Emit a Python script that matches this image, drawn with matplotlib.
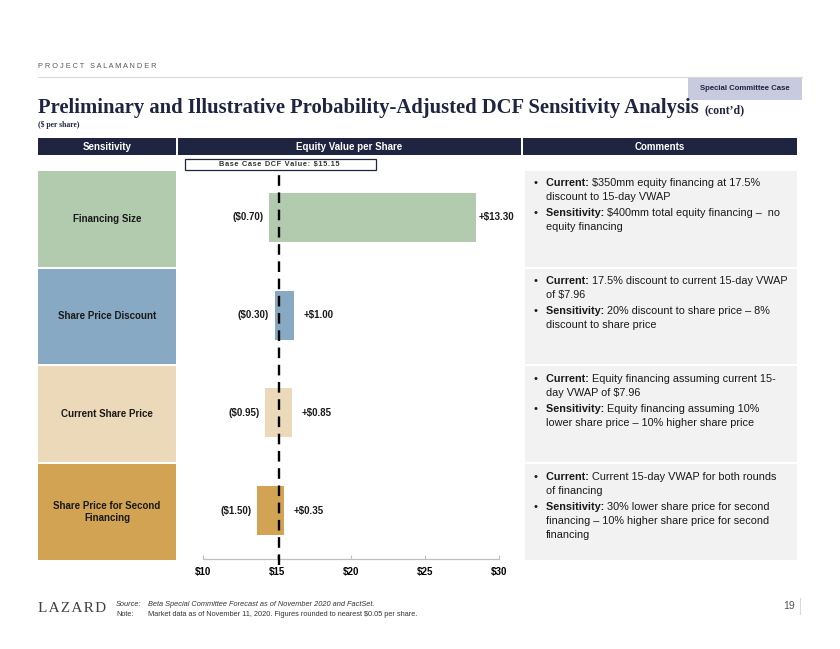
import matplotlib
matplotlib.use("Agg")
import matplotlib.pyplot as plt
from matplotlib.patches import Rectangle

plt.rcParams['font.family'] = ['Liberation Sans', 'DejaVu Sans']
plt.rcParams['text.parse_math'] = False

# ---- data ----
categories = ["Financing Size", "Share Price Discount", "Current Share Price",
              "Share Price for Second\nFinancing"]
base_value = 15.15
downside = [-0.70, -0.30, -0.95, -1.50]
upside = [13.30, 1.00, 0.85, 0.35]
x_ticks = [10, 15, 20, 25, 30]
x_tick_labels = ["$10", "$15", "$20", "$25", "$30"]
row_colors = ["#b2cbae", "#87a9c3", "#ebd9b9", "#d1a352"]

comments = [
    [("Current:", ["$350mm equity financing at 17.5%", "discount to 15-day VWAP"]),
     ("Sensitivity:", ["$400mm total equity financing \u2013  no", "equity financing"])],
    [("Current:", ["17.5% discount to current 15-day VWAP", "of $7.96"]),
     ("Sensitivity:", ["20% discount to share price \u2013 8%", "discount to share price"])],
    [("Current:", ["Equity financing assuming current 15-", "day VWAP of $7.96"]),
     ("Sensitivity:", ["Equity financing assuming 10%", "lower share price \u2013 10% higher share price"])],
    [("Current:", ["Current 15-day VWAP for both rounds", "of financing"]),
     ("Sensitivity:", ["30% lower share price for second",
                       "financing \u2013 10% higher share price for second", "financing"])],
]

NAVY = "#1f2440"
PANEL = "#f2f2f2"
HAIR = "\u200a"

W, H = 840, 649
fig = plt.figure(figsize=(W / 100, H / 100), dpi=100)
fig.patch.set_facecolor("white")

# background layout axes in pixel units
bg = fig.add_axes([0, 0, 1, 1])
bg.set_xlim(0, W)
bg.set_ylim(H, 0)
bg.axis("off")
renderer = fig.canvas.get_renderer()


def text_width(t):
    return t.get_window_extent(renderer=renderer).width


def spaced(s, sep=" "):
    # letter-spaced text, words kept apart by a wider gap
    return "   ".join(sep.join(w) for w in s.split(" "))


# header
bg.text(38, 66, spaced("PROJECT SALAMANDER"), fontsize=5.3, color="#595959", va="center")
bg.plot([38, 802], [76.5, 76.5], color="#d9d9d9", lw=0.8)
bg.add_patch(Rectangle((688, 77), 114, 23, facecolor="#c8cbdf", edgecolor="none"))
bg.text(745, 88.5, "Special Committee Case", fontsize=5.6, fontweight="bold", color=NAVY,
        ha="center", va="center")

title = bg.text(38, 113, "Preliminary and Illustrative Probability-Adjusted DCF Sensitivity Analysis",
                family="Liberation Serif", fontsize=14.9, fontweight="bold", color=NAVY,
                va="baseline")
tw = text_width(title)
bg.text(38 + tw + 6, 113, "(cont\u2019d)", family="Liberation Serif", fontsize=8.5,
        fontweight="bold", color=NAVY, va="baseline")
bg.text(38, 125, "($ per share)", family="Liberation Serif", fontsize=5.5, color=NAVY,
        fontweight="bold", va="center")

# column headers
for x0, x1, label in [(38, 176, "Sensitivity"), (178, 521, "Equity Value per Share"),
                      (523, 797, "Comments")]:
    bg.add_patch(Rectangle((x0, 138), x1 - x0, 17, facecolor=NAVY, edgecolor="none"))
    bg.text((x0 + x1) / 2, 146.5, label, color="white", fontsize=7, fontweight="bold",
            ha="center", va="center")

# base case box
bg.add_patch(Rectangle((185, 159), 191, 10.5, facecolor="white", edgecolor=NAVY, lw=0.9))
bg.text(279.5, 164.6, spaced("Base Case DCF Value: $15.15", HAIR).replace("   ", " \u2009"),
        fontsize=5.3, fontweight="bold", color="#333333", ha="center", va="center")

# rows: sensitivity labels and comment panels
row_top0, row_step, row_h = 171, 97.7, 95.5
for i, cat in enumerate(categories):
    top = row_top0 + i * row_step
    bg.add_patch(Rectangle((38, top), 138, row_h, facecolor=row_colors[i], edgecolor="none"))
    bg.text(107, top + row_h / 2, cat, fontsize=7, fontweight="bold", color="#1a1a1a",
            ha="center", va="center", linespacing=1.3)
    bg.add_patch(Rectangle((525, top), 272, row_h, facecolor=PANEL, edgecolor="none"))
    y = top + 12.5
    for prefix, lines in comments[i]:
        bg.text(536, y, "\u2022", fontsize=8, color="#1a1a1a", ha="center", va="center")
        p = bg.text(546, y, prefix + " ", fontsize=7.8, fontweight="bold", color="#1a1a1a", va="center")
        pw = text_width(p)
        bg.text(546 + pw, y, lines[0], fontsize=7.8, color="#1a1a1a", va="center")
        for ln in lines[1:]:
            y += 14
            bg.text(546, y, ln, fontsize=7.8, color="#1a1a1a", va="center")
        y += 16

# ---- tornado chart ----
ax_l, ax_r, ax_t, ax_b = 203, 499, 171, 559
ax = fig.add_axes([ax_l / W, 1 - ax_b / H, (ax_r - ax_l) / W, (ax_b - ax_t) / H])
ax.patch.set_alpha(0)
for i in range(len(categories)):
    left = base_value + downside[i]
    width = upside[i] - downside[i]
    ax.barh(i, width, left=left, height=0.5, color=row_colors[i], edgecolor="none", zorder=2)
    ax.annotate(f"(${abs(downside[i]):.2f})", xy=(left, i), xytext=(-4, 0),
                textcoords="offset points", ha="right", va="center", fontsize=7,
                fontweight="bold", color="#1a1a1a")
    pad = 1.5 if upside[i] > 5 else 7
    ax.annotate(f"+${upside[i]:.2f}", xy=(base_value + upside[i], i), xytext=(pad, 0),
                textcoords="offset points", ha="left", va="center", fontsize=7,
                fontweight="bold", color="#1a1a1a")

ax.axvline(base_value, ymin=-0.015, ymax=1.0, color="black", lw=1.7,
           linestyle=(0, (4.5, 2.8)), zorder=3, clip_on=False)
ax.set_xlim(10, 30)
ax.set_ylim(3 + 48.5 / row_step, -46.5 / row_step)
ax.set_xticks(x_ticks)
ax.set_xticklabels(x_tick_labels, fontsize=7, fontweight="bold")
ax.set_yticks([])
for s in ["top", "right", "left"]:
    ax.spines[s].set_visible(False)
ax.spines["bottom"].set_color("#bfbfbf")
ax.spines["bottom"].set_linewidth(0.9)
ax.tick_params(axis="x", direction="in", length=3, color="#bfbfbf", pad=6)

# footer
bg.text(38, 608, HAIR.join("LAZARD"), family="Liberation Serif", fontsize=11,
        color="#404040", va="center")
bg.text(116, 604, "Source:", fontsize=5.3, style="italic", color="#333333", va="center")
bg.text(148, 604, "Beta Special Committee Forecast as of November 2020 and FactSet.", fontsize=5.3,
        style="italic", color="#333333", va="center")
bg.text(116, 614, "Note:", fontsize=5.3, color="#333333", va="center")
bg.text(148, 614, "Market data as of November 11, 2020. Figures rounded to nearest $0.05 per share.",
        fontsize=5.3, color="#333333", va="center")
bg.text(789, 606, "19", fontsize=7.5, color="#555555", ha="center", va="center")
bg.plot([800, 800], [598, 614], color="#d9d9d9", lw=0.8)

fig.savefig("out.png", dpi=100)
